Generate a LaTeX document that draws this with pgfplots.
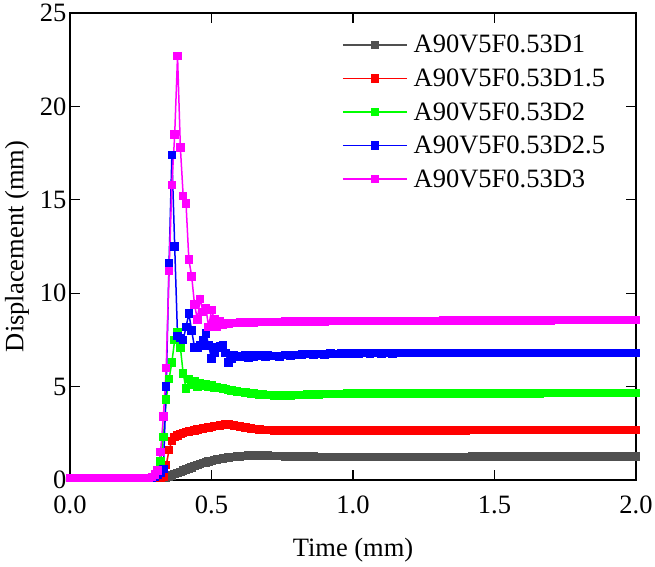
\documentclass[border=0pt]{standalone}
\usepackage{pgfplots}
\usepackage{pgfplotstable}
\pgfplotsset{compat=1.18}
\usepackage{fontspec}
\setmainfont{Liberation Serif}
\definecolor{cgray}{HTML}{505050}
\definecolor{cred}{HTML}{FF0000}
\definecolor{cgreen}{HTML}{00FF00}
\definecolor{cblue}{HTML}{0000FF}
\definecolor{cmag}{HTML}{FF00FF}
\pgfplotstableread{
t d1 d15 d2 d25 d3
0.00 0.1 0.1 0.1 0.1 0.1
0.02 0.1 0.1 0.1 0.1 0.1
0.04 0.1 0.1 0.1 0.1 0.1
0.06 0.1 0.1 0.1 0.1 0.1
0.08 0.1 0.1 0.1 0.1 0.1
0.10 0.1 0.1 0.1 0.1 0.1
0.12 0.1 0.1 0.1 0.1 0.1
0.14 0.1 0.1 0.1 0.1 0.1
0.16 0.1 0.1 0.1 0.1 0.1
0.18 0.1 0.1 0.1 0.1 0.1
0.20 0.1 0.1 0.1 0.1 0.1
0.22 0.1 0.1 0.1 0.1 0.1
0.24 0.1 0.1 0.1 0.1 0.1
0.26 0.1 0.1 0.1 0.1 0.1
0.28 0.1 0.1 0.1 0.1 0.1
0.29 0.1 0.1 0.1 0.1 0.15
0.30 0.1 0.1 0.15 0.15 0.3
0.31 0.1 0.1 0.4 0.3 0.5
0.32 0.1 0.1 1.0 0.4 1.5
0.33 0.1 0.15 2.3 0.6 3.4
0.34 0.12 0.8 4.3 5.0 6.0
0.35 0.18 1.6 5.4 11.6 11.2
0.36 0.25 2.1 6.3 17.4 15.8
0.37 0.32 2.3 7.5 12.5 18.5
0.38 0.38 2.38 7.9 7.7 22.7
0.39 0.44 2.45 7.1 7.6 17.8
0.40 0.5 2.52 5.7 7.5 15.2
0.41 0.56 2.56 4.9 8.2 14.8
0.42 0.62 2.6 5.4 8.9 11.8
0.43 0.68 2.63 5.1 8.0 10.9
0.44 0.74 2.66 5.3 7.1 9.4
0.45 0.8 2.7 5.0 7.1 8.6
0.46 0.86 2.73 5.2 7.2 9.7
0.47 0.9 2.76 5.05 7.5 9.0
0.48 0.95 2.79 5.15 7.85 9.2
0.49 0.99 2.82 5.0 7.2 8.2
0.50 1.03 2.85 5.05 6.5 9.1
0.51 1.07 2.88 4.95 6.8 8.6
0.52 1.1 2.9 4.98 7.1 8.2
0.53 1.13 2.93 4.92 7.15 8.5
0.54 1.16 2.95 4.9 7.2 8.3
0.55 1.18 2.96 4.86 6.8 8.4
0.56 1.2 2.96 4.83 6.3 8.35
0.57 1.22 2.95 4.8 6.5 8.4
0.58 1.24 2.93 4.77 6.7 8.4
0.59 1.26 2.9 4.74 6.65 8.4
0.60 1.27 2.87 4.72 6.6 8.42
0.61 1.28 2.84 4.7 6.65 8.42
0.62 1.29 2.81 4.68 6.7 8.43
0.63 1.3 2.78 4.66 6.55 8.43
0.64 1.3 2.76 4.64 6.7 8.44
0.65 1.31 2.74 4.62 6.6 8.44
0.66 1.31 2.72 4.6 6.7 8.45
0.67 1.31 2.7 4.58 6.65 8.45
0.68 1.3 2.69 4.57 6.7 8.45
0.69 1.3 2.68 4.56 6.6 8.46
0.70 1.3 2.67 4.55 6.7 8.46
0.72 1.29 2.65 4.53 6.65 8.47
0.74 1.28 2.64 4.52 6.62 8.47
0.76 1.27 2.64 4.52 6.68 8.48
0.78 1.26 2.64 4.53 6.66 8.48
0.80 1.25 2.64 4.55 6.7 8.48
0.82 1.25 2.64 4.56 6.72 8.48
0.84 1.25 2.64 4.57 6.74 8.48
0.86 1.25 2.64 4.58 6.72 8.49
0.88 1.24 2.64 4.59 6.74 8.49
0.90 1.24 2.64 4.6 6.72 8.49
0.92 1.24 2.65 4.6 6.76 8.5
0.94 1.24 2.65 4.61 6.74 8.5
0.96 1.24 2.65 4.61 6.78 8.5
0.98 1.24 2.65 4.62 6.76 8.5
1.00 1.24 2.65 4.62 6.78 8.5
1.02 1.24 2.65 4.62 6.77 8.5
1.04 1.24 2.65 4.62 6.79 8.5
1.06 1.24 2.65 4.62 6.78 8.5
1.08 1.24 2.65 4.62 6.79 8.51
1.10 1.24 2.65 4.63 6.78 8.51
1.12 1.24 2.65 4.63 6.79 8.51
1.14 1.24 2.65 4.63 6.78 8.51
1.16 1.24 2.65 4.63 6.79 8.51
1.18 1.24 2.65 4.63 6.79 8.51
1.20 1.24 2.65 4.63 6.79 8.52
1.22 1.24 2.66 4.63 6.79 8.52
1.24 1.24 2.66 4.63 6.79 8.52
1.26 1.24 2.66 4.63 6.79 8.52
1.28 1.24 2.66 4.63 6.79 8.52
1.30 1.24 2.66 4.63 6.79 8.52
1.32 1.24 2.66 4.63 6.79 8.53
1.34 1.24 2.66 4.64 6.79 8.53
1.36 1.24 2.66 4.64 6.79 8.53
1.38 1.24 2.66 4.64 6.8 8.53
1.40 1.24 2.66 4.64 6.8 8.53
1.42 1.25 2.67 4.64 6.8 8.53
1.44 1.25 2.67 4.64 6.8 8.54
1.46 1.25 2.67 4.64 6.8 8.54
1.48 1.25 2.67 4.64 6.8 8.54
1.50 1.25 2.67 4.64 6.8 8.54
1.52 1.25 2.67 4.64 6.8 8.54
1.54 1.25 2.67 4.64 6.8 8.54
1.56 1.25 2.67 4.64 6.8 8.55
1.58 1.25 2.67 4.64 6.8 8.55
1.60 1.25 2.67 4.64 6.8 8.55
1.62 1.25 2.67 4.64 6.8 8.55
1.64 1.25 2.67 4.64 6.8 8.55
1.66 1.25 2.67 4.64 6.8 8.55
1.68 1.25 2.68 4.65 6.8 8.55
1.70 1.25 2.68 4.65 6.8 8.55
1.72 1.25 2.68 4.65 6.8 8.56
1.74 1.25 2.68 4.65 6.8 8.56
1.76 1.25 2.68 4.65 6.8 8.56
1.78 1.25 2.68 4.65 6.8 8.56
1.80 1.25 2.68 4.65 6.8 8.56
1.82 1.25 2.68 4.65 6.8 8.56
1.84 1.25 2.68 4.65 6.8 8.56
1.86 1.25 2.68 4.65 6.8 8.56
1.88 1.25 2.68 4.65 6.8 8.57
1.90 1.25 2.68 4.65 6.8 8.57
1.92 1.25 2.68 4.65 6.8 8.57
1.94 1.25 2.68 4.65 6.8 8.57
1.96 1.25 2.68 4.65 6.8 8.57
1.98 1.25 2.68 4.65 6.8 8.57
2.00 1.25 2.68 4.65 6.8 8.57
}\datatab
\newcommand{\bigfont}{\fontsize{26.5bp}{32bp}\selectfont}
\begin{document}
\begin{tikzpicture}
\begin{axis}[
  scale only axis,
  width=566bp, height=467bp,
  xmin=0, xmax=2, ymin=0, ymax=25,
  xtick={0,0.5,1,1.5,2},
  ytick={0,5,10,15,20,25},
  tick align=inside,
  major tick length=10bp,
  /pgf/number format/assume math mode=true,
  xticklabel style={/pgf/number format/.cd,fixed,fixed zerofill,precision=1,/tikz/.cd,anchor=center,yshift=-25bp},
  tick label style={font=\bigfont},
  label style={font=\bigfont},
  xlabel style={at={(axis description cs:0.5,0)}, anchor=center, yshift=-70bp},
  ylabel style={at={(axis description cs:-0.0936,0.5)}, anchor=center},
  axis line style={line width=1.5bp},
  tick style={line width=1.3bp, black},
  xlabel={Time (mm)},
  ylabel={Displacement (mm)},
  legend style={draw=none, fill=none, at={(0.4806,0.957)}, anchor=north west,
    font=\bigfont, row sep=10.5bp, inner sep=0pt,
    /tikz/every odd column/.append style={column sep=4bp}},
  legend cell align=left,
  legend image code/.code={\draw[mark repeat=2,mark phase=2] plot coordinates {(0bp,0bp) (32bp,0bp) (64bp,0bp)};},
  every axis plot/.append style={mark=square*, mark size=3.5bp, line width=1.5bp},
]
\addplot[color=cgray, mark options={fill=cgray}] table[x=t,y=d1]{\datatab};
\addlegendentry{A90V5F0.53D1}
\addplot[color=cred, mark options={fill=cred}] table[x=t,y=d15]{\datatab};
\addlegendentry{A90V5F0.53D1.5}
\addplot[color=cgreen, mark options={fill=cgreen}] table[x=t,y=d2]{\datatab};
\addlegendentry{A90V5F0.53D2}
\addplot[color=cblue, mark options={fill=cblue}] table[x=t,y=d25]{\datatab};
\addlegendentry{A90V5F0.53D2.5}
\addplot[color=cmag, mark options={fill=cmag}] table[x=t,y=d3]{\datatab};
\addlegendentry{A90V5F0.53D3}
\end{axis}
\pgfresetboundingbox
\path (-70bp,-87bp) rectangle (585bp,480bp);
\end{tikzpicture}
\end{document}
